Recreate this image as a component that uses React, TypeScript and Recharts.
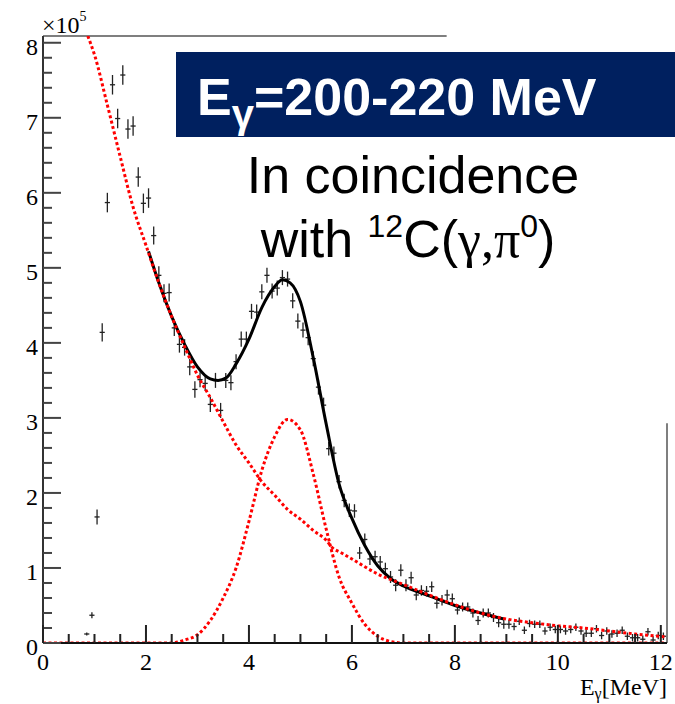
import React from 'react'
import { ComposedChart, Line, Scatter, ErrorBar, XAxis, YAxis, ReferenceLine } from 'recharts'

// Histogram bins (E_gamma, MeV), counts in units of 1e5 and the vertical error of each bin
const BIN_E = [
  0.85, 0.95, 1.05, 1.15, 1.25, 1.35, 1.45, 1.55, 1.65, 1.75, 1.85, 1.95, 2.05, 2.15,
  2.25, 2.35, 2.45, 2.55, 2.65, 2.75, 2.85, 2.95, 3.05, 3.15, 3.25, 3.35, 3.45, 3.55,
  3.65, 3.75, 3.85, 3.95, 4.05, 4.15, 4.25, 4.35, 4.45, 4.55, 4.65, 4.75, 4.85, 4.95,
  5.05, 5.15, 5.25, 5.35, 5.45, 5.55, 5.65, 5.75, 5.85, 5.95, 6.05, 6.15, 6.25, 6.35,
  6.45, 6.55, 6.65, 6.75, 6.85, 6.95, 7.05, 7.15, 7.25, 7.35, 7.45, 7.55, 7.65, 7.75,
  7.85, 7.95, 8.05, 8.15, 8.25, 8.35, 8.45, 8.55, 8.65, 8.75, 8.85, 8.95, 9.05, 9.15,
  9.25, 9.35, 9.45, 9.55, 9.65, 9.75, 9.85, 9.95, 10.05, 10.15, 10.25, 10.35, 10.45, 10.55,
  10.65, 10.75, 10.85, 10.95, 11.05, 11.15, 11.25, 11.35, 11.45, 11.55, 11.65, 11.75, 11.85, 11.95,
  12.05,
]
const BIN_COUNTS = [
  0.12, 0.37, 1.68, 4.14, 5.87, 7.44, 6.99, 7.57, 6.85, 6.89, 6.21, 5.86, 5.93, 5.43,
  4.9, 4.66, 4.67, 4.2, 3.98, 3.94, 3.68, 3.38, 3.51, 3.46, 3.18, 3.5, 3.1, 3.5,
  3.47, 3.75, 4.05, 4.05, 4.42, 4.41, 4.68, 4.9, 4.69, 4.73, 4.87, 4.85, 4.56, 4.29,
  4.17, 4.07, 3.79, 3.41, 3.17, 2.59, 2.53, 2.15, 1.9, 1.77, 1.76, 1.2, 1.38, 1.12,
  1.15, 1.08, 0.99, 0.88, 0.77, 0.97, 0.77, 0.87, 0.64, 0.7, 0.69, 0.75, 0.53, 0.57,
  0.64, 0.59, 0.44, 0.48, 0.48, 0.4, 0.3, 0.4, 0.4, 0.34, 0.27, 0.25, 0.25, 0.22,
  0.29, 0.17, 0.26, 0.25, 0.25, 0.16, 0.21, 0.18, 0.18, 0.16, 0.18, 0.21, 0.16, 0.13,
  0.13, 0.19, 0.1, 0.16, 0.12, 0.13, 0.17, 0.09, 0.07, 0.07, 0.05, 0.15, 0.04, 0.1,
  0.09,
]
const BIN_ERRS = [
  0.02, 0.04, 0.1, 0.12, 0.13, 0.13, 0.13, 0.13, 0.13, 0.13, 0.13, 0.13, 0.13, 0.12,
  0.12, 0.12, 0.12, 0.11, 0.11, 0.11, 0.11, 0.11, 0.1, 0.1, 0.1, 0.1, 0.1, 0.1,
  0.1, 0.1, 0.1, 0.1, 0.1, 0.1, 0.1, 0.1, 0.1, 0.1, 0.1, 0.1, 0.1, 0.1,
  0.1, 0.1, 0.1, 0.1, 0.1, 0.09, 0.09, 0.09, 0.09, 0.09, 0.09, 0.08, 0.08, 0.08,
  0.08, 0.08, 0.08, 0.08, 0.08, 0.08, 0.08, 0.08, 0.07, 0.07, 0.07, 0.07, 0.07, 0.07,
  0.07, 0.07, 0.06, 0.06, 0.06, 0.06, 0.06, 0.06, 0.06, 0.06, 0.06, 0.06, 0.06, 0.05,
  0.05, 0.05, 0.05, 0.05, 0.05, 0.05, 0.05, 0.05, 0.05, 0.05, 0.05, 0.05, 0.05, 0.05,
  0.05, 0.05, 0.05, 0.05, 0.05, 0.05, 0.05, 0.05, 0.05, 0.05, 0.05, 0.05, 0.05, 0.05,
  0.05,
]
const BIN_HALF_WIDTH = 0.05

// total fit (black)
const FIT_E = [2.05, 2.25, 2.5, 2.75, 3.0, 3.25, 3.4, 3.55, 3.75, 4.0, 4.25, 4.5, 4.65, 4.8, 5.0, 5.25, 5.5, 5.75, 6.0, 6.25, 6.5, 6.75, 7.0, 7.5, 8.0, 8.5, 8.95]
const FIT_VAL = [5.22, 4.8, 4.35, 3.98, 3.68, 3.52, 3.5, 3.53, 3.72, 4.05, 4.47, 4.75, 4.84, 4.8, 4.55, 3.8, 2.92, 2.12, 1.66, 1.3, 1.03, 0.86, 0.76, 0.63, 0.5, 0.4, 0.32]

// background component (red dotted)
const BG_E = [0.87, 1.0, 1.25, 1.5, 1.75, 2.0, 2.25, 2.5, 2.75, 3.0, 3.25, 3.5, 3.75, 4.0, 4.25, 4.5, 4.75, 5.0, 5.25, 5.5, 5.62, 5.8, 6.0, 6.5, 7.0, 7.5, 8.0, 8.5, 9.0, 9.5, 10.0, 10.5, 11.0, 11.5, 12.1]
const BG_VAL = [8.09, 7.84, 7.17, 6.48, 5.81, 5.3, 4.8, 4.35, 3.95, 3.57, 3.27, 2.95, 2.64, 2.4, 2.15, 1.97, 1.78, 1.65, 1.5, 1.37, 1.27, 1.2, 1.12, 0.92, 0.78, 0.64, 0.51, 0.4, 0.32, 0.27, 0.23, 0.2, 0.16, 0.12, 0.08]

// peak component (red dotted)
const PEAK_E = [0, 2.5, 2.75, 3.0, 3.25, 3.5, 3.75, 4.0, 4.25, 4.5, 4.75, 5.0, 5.25, 5.5, 5.75, 6.0, 6.25, 6.5, 6.75, 7.0, 12.1]
const PEAK_VAL = [0, 0, 0.04, 0.11, 0.3, 0.6, 1.0, 1.62, 2.3, 2.75, 2.98, 2.84, 2.25, 1.52, 0.88, 0.53, 0.25, 0.09, 0.02, 0, 0]

const X_TICKS = [0, 2, 4, 6, 8, 10, 12]
const Y_TICKS = [0, 1, 2, 3, 4, 5, 6, 7, 8]

const X_MAX = 12.12
const Y_MAX = 8.09

// chart box (matches the margins / axis sizes below)
const W = 675
const H = 704
const MARGIN = { top: 36, right: 8, bottom: 31, left: 0 }
const Y_AXIS_W = 43
const X_AXIS_H = 30
const PLOT_L = MARGIN.left + Y_AXIS_W
const PLOT_R = W - MARGIN.right
const PLOT_T = MARGIN.top
const PLOT_B = H - MARGIN.bottom - X_AXIS_H

const SERIF = '"Liberation Serif", "Times New Roman", serif'
const SANS = '"Liberation Sans", Arial, Helvetica, sans-serif'
const RED = '#ff0000'

const points = BIN_E.map((x, i) => ({ x, y: BIN_COUNTS[i], ex: BIN_HALF_WIDTH, ey: BIN_ERRS[i] }))
const fit = FIT_E.map((x, i) => ({ x, y: FIT_VAL[i] }))
const bg = BG_E.map((x, i) => ({ x, y: BG_VAL[i] }))
const peak = PEAK_E.map((x, i) => ({ x, y: PEAK_VAL[i] }))

// ROOT-style inner tick marks (axis decoration only): major each unit / 2 MeV, minor each 0.2 / 0.5
const sx = (v: number) => PLOT_L + (v / X_MAX) * (PLOT_R - PLOT_L)
const sy = (v: number) => PLOT_B - (v / Y_MAX) * (PLOT_B - PLOT_T)
const Y_MARK_VALUES: number[] = []
for (let k = 0; k <= 40; k++) Y_MARK_VALUES.push(k / 5)
const X_MARK_VALUES: number[] = []
for (let k = 0; k <= 24; k++) X_MARK_VALUES.push(k / 2)

const XTick = ({ x, y, payload }: any) => (
  <text x={x} y={y + 27} textAnchor="middle" fontFamily={SERIF} fontSize={24} fill="#000">
    {payload.value}
  </text>
)

const YTick = ({ x, y, payload }: any) => (
  <text x={x - 5} y={y + 12} textAnchor="end" fontFamily={SERIF} fontSize={24} fill="#000">
    {payload.value}
  </text>
)

export default function App() {
  return (
    <div style={{ position: 'absolute', left: 0, top: 0, width: W, height: H, background: '#fff' }}>
      <ComposedChart width={W} height={H} margin={MARGIN}>
        <XAxis
          type="number"
          dataKey="x"
          domain={[0, X_MAX]}
          ticks={X_TICKS}
          allowDataOverflow
          height={X_AXIS_H}
          tick={<XTick />}
          tickLine={false}
          tickSize={0}
          tickMargin={0}
          axisLine={{ stroke: '#111', strokeWidth: 2 }}
        />
        <YAxis
          type="number"
          domain={[0, Y_MAX]}
          ticks={Y_TICKS}
          allowDataOverflow
          width={Y_AXIS_W}
          tick={<YTick />}
          tickLine={false}
          tickSize={0}
          tickMargin={0}
          axisLine={{ stroke: '#333', strokeWidth: 2 }}
        />

        {/* partial frame: the rest is hidden under the pasted label */}
        <ReferenceLine segment={[{ x: 0, y: Y_MAX }, { x: 7.84, y: Y_MAX }]} stroke="#555" strokeWidth={1.5} />
        <ReferenceLine segment={[{ x: X_MAX, y: 0 }, { x: X_MAX, y: 2.93 }]} stroke="#555" strokeWidth={1.5} />

        <Scatter data={points} dataKey="y" shape={() => <g />} isAnimationActive={false}>
          <ErrorBar dataKey="ex" direction="x" width={0} stroke="#222" strokeWidth={1.3} isAnimationActive={false} />
          <ErrorBar dataKey="ey" direction="y" width={0} stroke="#222" strokeWidth={1.3} isAnimationActive={false} />
        </Scatter>

        <Line data={fit} dataKey="y" type="monotone" stroke="#000" strokeWidth={3} dot={false} isAnimationActive={false} />
        <Line data={bg} dataKey="y" type="monotone" stroke={RED} strokeWidth={3} strokeDasharray="3 2.5" dot={false} isAnimationActive={false} />
        <Line data={peak} dataKey="y" type="monotone" stroke={RED} strokeWidth={3} strokeDasharray="3 2.5" dot={false} isAnimationActive={false} />
      </ComposedChart>

      <svg width={W} height={H} style={{ position: 'absolute', left: 0, top: 0, pointerEvents: 'none' }}>
        {Y_MARK_VALUES.map((v, k) => (
          <rect key={'ym' + k} x={PLOT_L} y={sy(v) - 1} width={k % 5 === 0 ? 18 : 9} height={2} fill="#444" />
        ))}
        {X_MARK_VALUES.map((v, k) => (
          <rect key={'xm' + k} x={sx(v) - 1} y={PLOT_B - (k % 4 === 0 ? 18 : 9)} width={2} height={k % 4 === 0 ? 18 : 9} fill="#222" />
        ))}

        <text x={42} y={33} fontFamily={SERIF} fontSize={24} fill="#000">
          ×10<tspan fontSize={14} dy={-12}>5</tspan>
        </text>
        <text x={667} y={695} textAnchor="end" fontFamily={SERIF} fontSize={24} fill="#000">
          E<tspan fontSize={16} dy={4}>γ</tspan>
          <tspan dy={-4}>[MeV]</tspan>
        </text>

        <rect x={176} y={52} width={499} height={85} fill="#00205f" />
        <text x={197} y={115} fontFamily={SANS} fontWeight="bold" fontSize={52} fill="#fff">
          E<tspan fontSize={40} dy={13}>γ</tspan>
          <tspan dy={-13}>=200-220 MeV</tspan>
        </text>

        <text x={413} y={193} textAnchor="middle" fontFamily={SANS} fontSize={52} fill="#000">
          In coincidence
        </text>
        <text x={408} y={257} textAnchor="middle" fontFamily={SANS} fontSize={52} fill="#000">
          with <tspan fontSize={32} dy={-20}>12</tspan>
          <tspan dy={20}>C(</tspan>
          <tspan fontFamily={SERIF}>γ,π</tspan>
          <tspan fontSize={32} dy={-20}>0</tspan>
          <tspan dy={20}>)</tspan>
        </text>
      </svg>
    </div>
  )
}
